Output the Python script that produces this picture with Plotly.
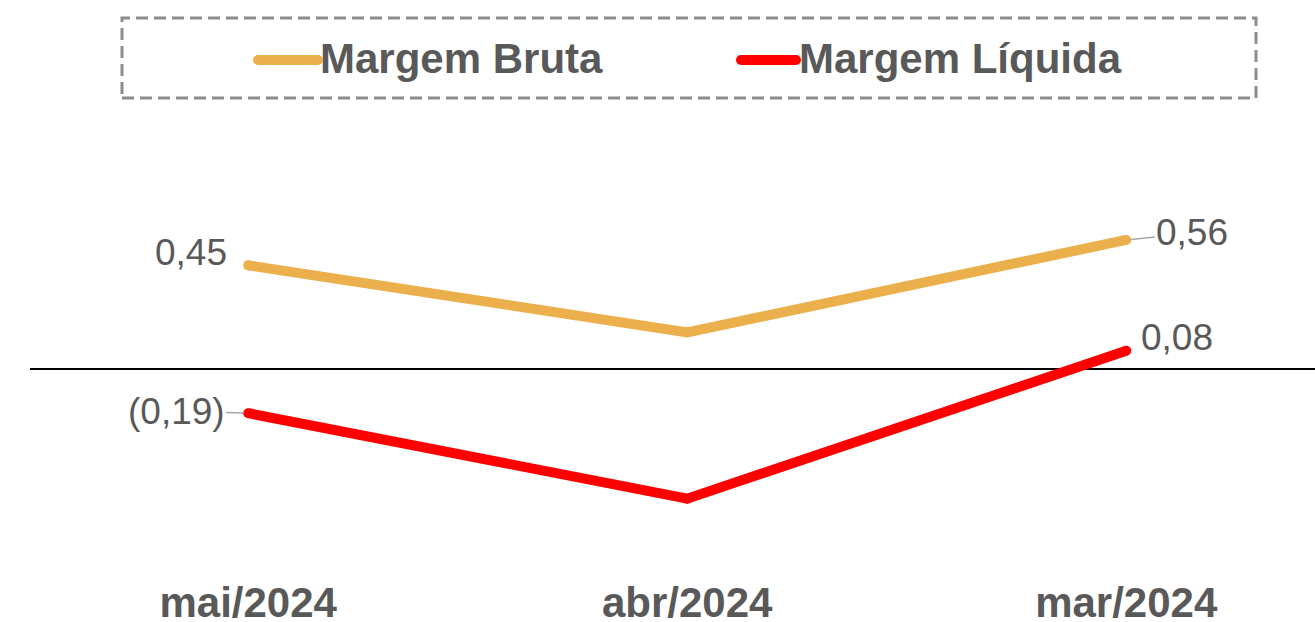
import plotly.graph_objects as go

categories = ["mai/2024", "abr/2024", "mar/2024"]
margem_bruta = [0.45, 0.16, 0.56]
margem_liquida = [-0.19, -0.56, 0.08]
series_names = ["Margem Bruta", "Margem Líquida"]
colors = ["#EBB04B", "#FF0000"]

def fmt(v):
    s = f"{abs(v):.2f}".replace(".", ",")
    return f"({s})" if v < 0 else s

W, H = 1315, 622
L, R, T, B = 30, 0, 110, 41
pw, ph = W - L - R, H - T - B

def px(x):
    return (x - L) / pw

def py(y):
    return (H - B - y) / ph

xs = list(range(len(categories)))
fig = go.Figure()
for name, vals, col in zip(series_names, [margem_bruta, margem_liquida], colors):
    fig.add_trace(go.Scatter(
        x=xs, y=vals, mode="lines+markers", name=name,
        line=dict(color=col, width=10),
        marker=dict(color=col, size=10, symbol="circle"),
        showlegend=False, hoverinfo="skip",
    ))

label_font = dict(family="Liberation Sans, Arial, sans-serif", size=37, color="#595959")
ann = []
ann.append(dict(x=0, y=margem_bruta[0], text=fmt(margem_bruta[0]), showarrow=False,
                xanchor="right", yanchor="middle", xshift=-19, yshift=13, font=label_font))
ann.append(dict(x=0, y=margem_liquida[0], text=fmt(margem_liquida[0]), showarrow=True,
                arrowhead=0, arrowwidth=1.5, arrowcolor="#A6A6A6", ax=-72, ay=-2,
                standoff=5, font=label_font))
ann.append(dict(x=2, y=margem_bruta[2], text=fmt(margem_bruta[2]), showarrow=True,
                arrowhead=0, arrowwidth=1.5, arrowcolor="#A6A6A6", ax=66, ay=-7,
                standoff=5, font=label_font))
ann.append(dict(x=2, y=margem_liquida[2], text=fmt(margem_liquida[2]), showarrow=False,
                xanchor="left", yanchor="middle", xshift=13, yshift=13, font=label_font))

leg_font = dict(family="Liberation Sans, Arial, sans-serif", size=42, color="#595959")
shapes = [dict(type="rect", xref="paper", yref="paper",
               x0=px(122), x1=px(1256), y0=py(98), y1=py(18),
               line=dict(color="#8C8C8C", width=3, dash="12px,6px"))]
leg_items = [(258, 318, 318), (741, 796, 797)]
for (x0, x1, tx), name, col in zip(leg_items, series_names, colors):
    shapes.append(dict(type="line", xref="paper", yref="paper",
                       x0=px(x0), x1=px(x1), y0=py(60), y1=py(60),
                       line=dict(color=col, width=10)))
    for cx in (x0, x1):
        shapes.append(dict(type="circle", xref="paper", yref="paper",
                           x0=px(cx - 5), x1=px(cx + 5), y0=py(65), y1=py(55),
                           fillcolor=col, line=dict(width=0)))
    ann.append(dict(xref="paper", yref="paper", x=px(tx), y=py(58), text=f"<b>{name}</b>",
                    showarrow=False, xanchor="left", yanchor="middle", font=leg_font))

fig.update_layout(
    width=W, height=H, margin=dict(l=L, r=R, t=T, b=B, autoexpand=False),
    paper_bgcolor="white", plot_bgcolor="white",
    xaxis=dict(range=[-0.497, 2.43], tickvals=xs,
               ticktext=[f"<b>{c}</b>" for c in categories],
               tickfont=dict(family="Liberation Sans, Arial, sans-serif", size=42, color="#595959"),
               ticklabelstandoff=-7, automargin=False,
               showgrid=False, zeroline=False, showline=False, ticks=""),
    yaxis=dict(range=[-0.9165, 1.1225], showgrid=False, showticklabels=False, automargin=False,
               zeroline=True, zerolinecolor="#000000", zerolinewidth=1.5, showline=False),
    annotations=ann, shapes=shapes,
)
fig.write_html("out.html", config={"displayModeBar": False},
               post_script="document.body.style.margin='0';document.body.style.overflow='hidden';")
